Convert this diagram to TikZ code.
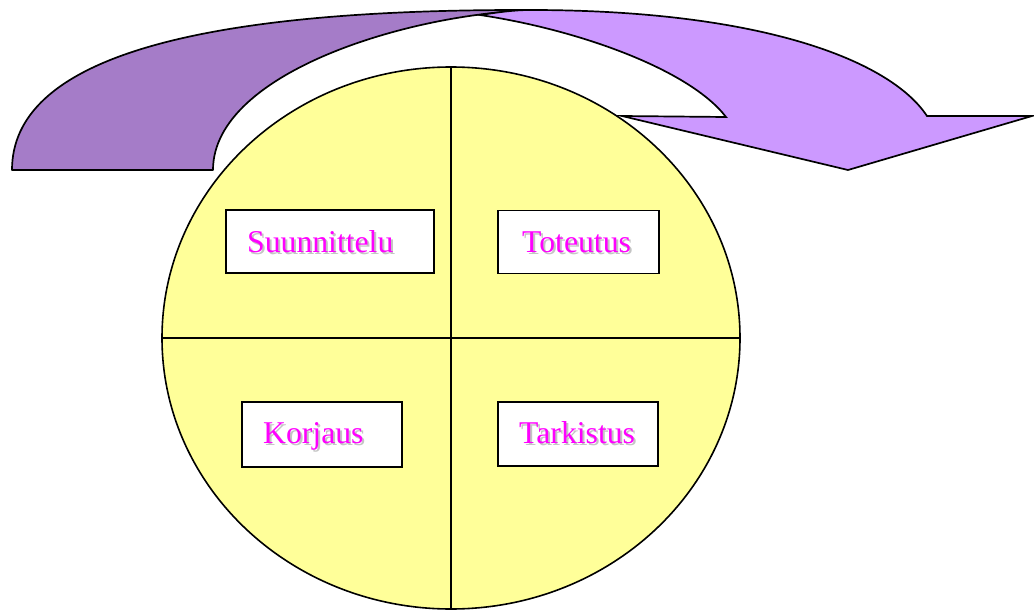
\documentclass[tikz,border=0pt]{standalone}
\usepackage{fontspec}
\setmainfont{Liberation Serif}
\usetikzlibrary{shapes.geometric}
\definecolor{cyel}{HTML}{FFFF99}
\definecolor{cdark}{HTML}{A57CC8}
\definecolor{clight}{HTML}{CC99FF}
\definecolor{cmag}{HTML}{FF00FF}
\definecolor{cshd}{HTML}{C4C4C4}
\tikzset{
  wheel/.style={ellipse, draw=black, fill=cyel, line width=1.6pt, minimum width=578pt, minimum height=542pt, inner sep=0pt},
  divider/.style={draw=black, line width=1.6pt},
  stagebox/.style={rectangle, draw=black, fill=white, line width=1.7pt, inner sep=0pt},
  lbl/.style={text=cmag, inner sep=0pt, anchor=base west, font=\fontsize{31.7pt}{38pt}\selectfont},
  shd/.style={text=cshd, inner sep=0pt, anchor=base west, font=\fontsize{31.7pt}{38pt}\selectfont},
  backband/.style={fill=cdark, draw=black, line width=1.7pt, line join=round},
  frontband/.style={fill=clight, draw=black, line width=1.7pt, line join=miter}
}
\begin{document}
\begin{tikzpicture}[x=1pt,y=-1pt]
\useasboundingbox (0,0) rectangle (1034,610);
% wheel
\node[wheel] (wheel) at (451,338) {};
\draw[divider] (wheel.north) -- (wheel.south);
\draw[divider] (wheel.west) -- (wheel.east);
% curved arrow: back part
\draw[backband] (12,170) .. controls (12,60) and (190,10) .. (520,10)
  -- (545,10) .. controls (420,10) and (213,70) .. (213,170) -- cycle;
% curved arrow: front part with head
\draw[frontband] (480,15) .. controls (500,12) and (515,10) .. (530,10)
  .. controls (760,10) and (890,60) .. (927,116)
  -- (1032,116) -- (848,170) -- (622,116) -- (726,117)
  .. controls (690,70) and (580,30) .. (480,15) -- cycle;
% stage boxes
\node[stagebox, minimum width=208pt, minimum height=63pt] (b1) at (330,241.5) {};
\node[stagebox, minimum width=161pt, minimum height=63pt] (b2) at (578.5,242) {};
\node[stagebox, minimum width=160pt, minimum height=65pt] (b3) at (322,434.5) {};
\node[stagebox, minimum width=160pt, minimum height=64pt] (b4) at (578,434) {};
% labels with shadow
\node[shd] (s1) at (249,254) {Suunnittelu};
\node[lbl] (l1) at (247,252) {Suunnittelu};
\node[shd] (s2) at (524,254) {Toteutus};
\node[lbl] (l2) at (522,252) {Toteutus};
\node[shd] (s3) at (265,445) {Korjaus};
\node[lbl] (l3) at (263,443) {Korjaus};
\node[shd] (s4) at (521,445) {Tarkistus};
\node[lbl] (l4) at (519,443) {Tarkistus};
\end{tikzpicture}
\end{document}
